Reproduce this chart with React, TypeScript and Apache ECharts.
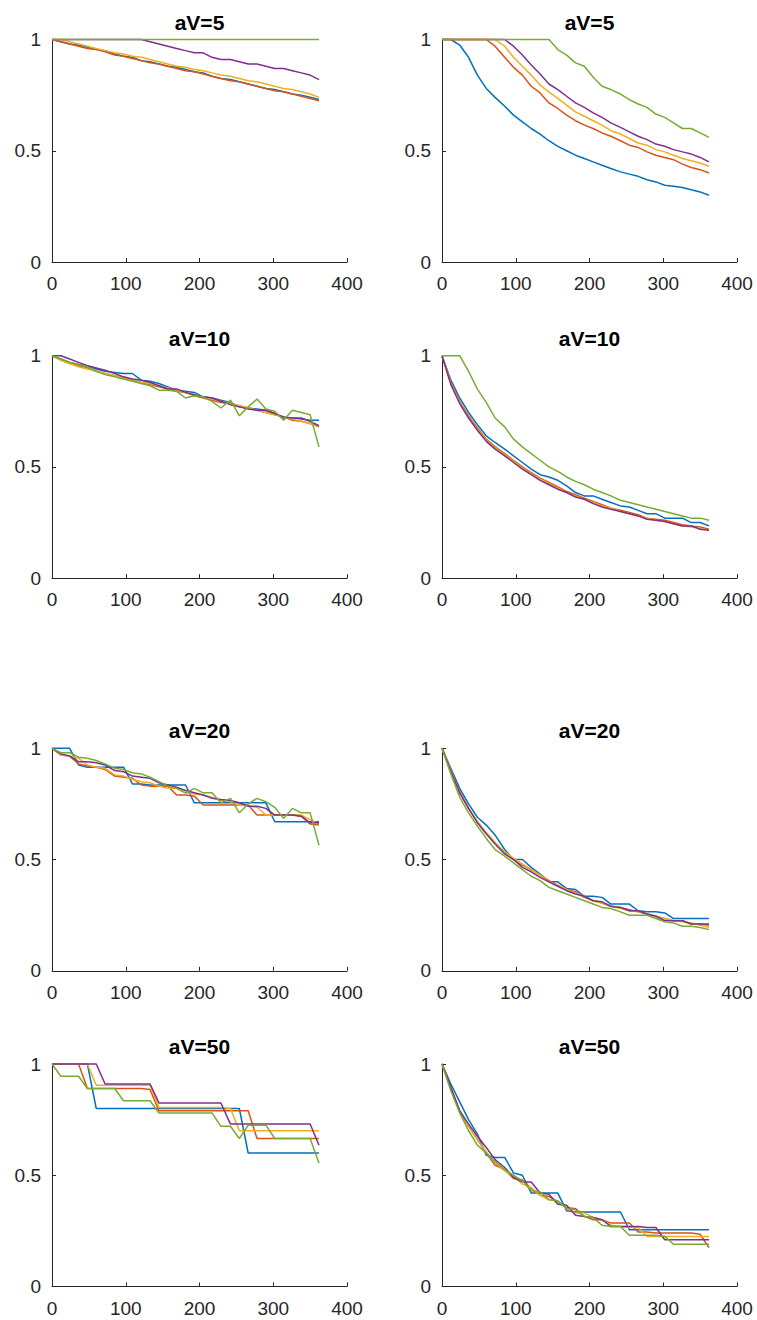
import React, { useEffect, useRef } from "react";
import * as echarts from "echarts";

// x values (days)
const days = [0, 12, 24, 36, 48, 60, 72, 85, 97, 109, 121, 133, 145, 157, 169, 181, 193, 205, 217, 229, 242, 254, 266, 278, 290, 302, 314, 326, 338, 350, 362];

const titles = ["aV=5", "aV=5", "aV=10", "aV=10", "aV=20", "aV=20", "aV=50", "aV=50"];
const xTicks = [0, 100, 200, 300, 400];
const yTicks = [0, 0.5, 1];

// Panel 1: left, aV=5
const p1Blue = [1, 0.99, 0.98, 0.975, 0.965, 0.955, 0.95, 0.935, 0.925, 0.92, 0.905, 0.9, 0.89, 0.88, 0.875, 0.865, 0.855, 0.85, 0.835, 0.825, 0.82, 0.81, 0.8, 0.79, 0.78, 0.775, 0.765, 0.755, 0.75, 0.74, 0.73];
const p1Red = [1, 0.99, 0.98, 0.97, 0.96, 0.955, 0.945, 0.93, 0.925, 0.915, 0.905, 0.895, 0.89, 0.88, 0.87, 0.86, 0.855, 0.845, 0.835, 0.825, 0.815, 0.81, 0.8, 0.79, 0.78, 0.77, 0.765, 0.755, 0.745, 0.735, 0.725];
const p1Yellow = [1, 1, 0.99, 0.98, 0.97, 0.96, 0.95, 0.94, 0.935, 0.925, 0.92, 0.91, 0.9, 0.89, 0.88, 0.875, 0.865, 0.86, 0.85, 0.84, 0.835, 0.825, 0.815, 0.81, 0.8, 0.79, 0.78, 0.775, 0.765, 0.755, 0.74];
const p1Purple = [1, 1, 1, 1, 1, 1, 1, 1, 1, 1, 1, 0.99, 0.98, 0.97, 0.96, 0.95, 0.94, 0.94, 0.92, 0.91, 0.91, 0.9, 0.89, 0.89, 0.88, 0.87, 0.87, 0.86, 0.85, 0.84, 0.82];
const p1Green = [1, 1, 1, 1, 1, 1, 1, 1, 1, 1, 1, 1, 1, 1, 1, 1, 1, 1, 1, 1, 1, 1, 1, 1, 1, 1, 1, 1, 1, 1, 1];

// Panel 2: right, aV=5
const p2Blue = [1, 1, 0.975, 0.92, 0.84, 0.78, 0.74, 0.7, 0.66, 0.63, 0.6, 0.575, 0.545, 0.52, 0.5, 0.48, 0.465, 0.45, 0.435, 0.42, 0.405, 0.395, 0.385, 0.37, 0.36, 0.345, 0.34, 0.335, 0.325, 0.315, 0.3];
const p2Red = [1, 1, 1, 1, 1, 1, 0.97, 0.92, 0.875, 0.84, 0.79, 0.76, 0.715, 0.69, 0.66, 0.635, 0.615, 0.6, 0.58, 0.565, 0.545, 0.525, 0.515, 0.495, 0.48, 0.47, 0.46, 0.44, 0.425, 0.415, 0.4];
const p2Yellow = [1, 1, 1, 1, 1, 1, 1, 0.97, 0.92, 0.88, 0.84, 0.795, 0.765, 0.735, 0.705, 0.675, 0.655, 0.635, 0.615, 0.59, 0.575, 0.555, 0.535, 0.525, 0.505, 0.495, 0.48, 0.465, 0.455, 0.445, 0.43];
const p2Purple = [1, 1, 1, 1, 1, 1, 1, 1, 0.97, 0.93, 0.885, 0.845, 0.8, 0.775, 0.745, 0.715, 0.695, 0.67, 0.65, 0.625, 0.605, 0.585, 0.565, 0.55, 0.53, 0.52, 0.505, 0.495, 0.485, 0.47, 0.45];
const p2Green = [1, 1, 1, 1, 1, 1, 1, 1, 1, 1, 1, 1, 1, 0.955, 0.93, 0.895, 0.88, 0.83, 0.79, 0.775, 0.755, 0.73, 0.71, 0.695, 0.665, 0.65, 0.625, 0.6, 0.6, 0.58, 0.56];

// Panel 3: left, aV=10
const p3Blue = [1, 0.985, 0.97, 0.96, 0.955, 0.94, 0.93, 0.925, 0.92, 0.92, 0.89, 0.885, 0.875, 0.86, 0.845, 0.84, 0.835, 0.815, 0.81, 0.8, 0.79, 0.77, 0.765, 0.76, 0.755, 0.74, 0.72, 0.72, 0.715, 0.71, 0.71];
const p3Red = [1, 0.98, 0.965, 0.955, 0.945, 0.93, 0.92, 0.91, 0.9, 0.89, 0.88, 0.87, 0.86, 0.85, 0.84, 0.835, 0.82, 0.81, 0.8, 0.79, 0.785, 0.775, 0.765, 0.755, 0.745, 0.735, 0.725, 0.71, 0.705, 0.695, 0.68];
const p3Yellow = [1, 0.98, 0.965, 0.95, 0.94, 0.93, 0.92, 0.91, 0.9, 0.89, 0.88, 0.875, 0.865, 0.855, 0.845, 0.835, 0.825, 0.815, 0.805, 0.795, 0.785, 0.775, 0.765, 0.755, 0.745, 0.735, 0.725, 0.715, 0.705, 0.695, 0.68];
const p3Purple = [1, 1, 0.985, 0.97, 0.955, 0.945, 0.935, 0.92, 0.905, 0.895, 0.89, 0.88, 0.865, 0.85, 0.85, 0.835, 0.825, 0.815, 0.81, 0.795, 0.78, 0.77, 0.76, 0.755, 0.755, 0.74, 0.725, 0.72, 0.72, 0.705, 0.685];
const p3Green = [1, 0.985, 0.97, 0.96, 0.95, 0.93, 0.915, 0.905, 0.895, 0.885, 0.875, 0.865, 0.845, 0.845, 0.84, 0.81, 0.82, 0.815, 0.795, 0.765, 0.8, 0.73, 0.77, 0.805, 0.76, 0.75, 0.71, 0.755, 0.745, 0.735, 0.59];

// Panel 4: right, aV=10
const p4Blue = [1, 0.89, 0.81, 0.745, 0.69, 0.64, 0.61, 0.58, 0.55, 0.52, 0.49, 0.465, 0.455, 0.44, 0.415, 0.385, 0.37, 0.37, 0.355, 0.34, 0.325, 0.32, 0.305, 0.29, 0.29, 0.27, 0.27, 0.27, 0.25, 0.25, 0.235];
const p4Red = [1, 0.88, 0.795, 0.73, 0.675, 0.625, 0.59, 0.56, 0.53, 0.5, 0.475, 0.45, 0.43, 0.41, 0.39, 0.375, 0.36, 0.345, 0.33, 0.315, 0.305, 0.295, 0.285, 0.27, 0.265, 0.26, 0.25, 0.24, 0.235, 0.23, 0.22];
const p4Yellow = [1, 0.875, 0.79, 0.725, 0.67, 0.62, 0.585, 0.555, 0.525, 0.495, 0.47, 0.445, 0.425, 0.405, 0.385, 0.37, 0.355, 0.34, 0.325, 0.315, 0.3, 0.29, 0.28, 0.27, 0.26, 0.255, 0.245, 0.235, 0.23, 0.225, 0.215];
const p4Purple = [1, 0.87, 0.785, 0.72, 0.665, 0.615, 0.58, 0.55, 0.52, 0.49, 0.465, 0.44, 0.42, 0.4, 0.385, 0.365, 0.355, 0.335, 0.32, 0.31, 0.3, 0.29, 0.28, 0.265, 0.26, 0.255, 0.245, 0.235, 0.235, 0.22, 0.215];
const p4Green = [1, 1, 1, 0.93, 0.85, 0.79, 0.72, 0.68, 0.625, 0.59, 0.56, 0.53, 0.5, 0.48, 0.455, 0.435, 0.42, 0.4, 0.385, 0.37, 0.35, 0.34, 0.33, 0.32, 0.31, 0.3, 0.29, 0.28, 0.27, 0.27, 0.26];

// Panel 5: left, aV=20
const p5Blue = [1, 1, 1, 0.925, 0.915, 0.915, 0.915, 0.915, 0.915, 0.84, 0.84, 0.835, 0.835, 0.835, 0.835, 0.835, 0.755, 0.755, 0.755, 0.755, 0.755, 0.755, 0.755, 0.755, 0.755, 0.67, 0.67, 0.67, 0.67, 0.67, 0.67];
const p5Red = [1, 0.97, 0.965, 0.93, 0.92, 0.915, 0.905, 0.875, 0.87, 0.865, 0.835, 0.83, 0.83, 0.83, 0.79, 0.79, 0.785, 0.745, 0.745, 0.745, 0.745, 0.745, 0.745, 0.7, 0.7, 0.7, 0.7, 0.7, 0.695, 0.66, 0.655];
const p5Yellow = [1, 0.97, 0.965, 0.955, 0.925, 0.915, 0.91, 0.88, 0.875, 0.86, 0.85, 0.845, 0.83, 0.82, 0.82, 0.8, 0.795, 0.79, 0.78, 0.765, 0.76, 0.745, 0.74, 0.735, 0.7, 0.7, 0.7, 0.7, 0.7, 0.68, 0.66];
const p5Purple = [1, 0.975, 0.965, 0.94, 0.94, 0.935, 0.925, 0.9, 0.895, 0.875, 0.87, 0.865, 0.845, 0.835, 0.825, 0.81, 0.8, 0.79, 0.775, 0.77, 0.765, 0.755, 0.74, 0.74, 0.73, 0.7, 0.7, 0.7, 0.695, 0.665, 0.665];
const p5Green = [1, 0.98, 0.98, 0.96, 0.955, 0.945, 0.93, 0.91, 0.905, 0.89, 0.885, 0.87, 0.85, 0.83, 0.82, 0.8, 0.82, 0.8, 0.8, 0.755, 0.775, 0.71, 0.75, 0.775, 0.76, 0.735, 0.685, 0.73, 0.71, 0.71, 0.565];

// Panel 6: right, aV=20
const p6Blue = [1, 0.91, 0.82, 0.75, 0.69, 0.655, 0.61, 0.545, 0.5, 0.5, 0.465, 0.435, 0.4, 0.4, 0.37, 0.365, 0.335, 0.335, 0.33, 0.3, 0.3, 0.3, 0.27, 0.265, 0.265, 0.26, 0.235, 0.235, 0.235, 0.235, 0.235];
const p6Red = [1, 0.9, 0.805, 0.73, 0.67, 0.62, 0.575, 0.53, 0.5, 0.475, 0.455, 0.43, 0.405, 0.385, 0.365, 0.355, 0.33, 0.315, 0.305, 0.29, 0.285, 0.275, 0.265, 0.255, 0.245, 0.235, 0.225, 0.225, 0.21, 0.21, 0.205];
const p6Yellow = [1, 0.9, 0.8, 0.73, 0.67, 0.62, 0.575, 0.535, 0.505, 0.48, 0.455, 0.43, 0.4, 0.385, 0.365, 0.35, 0.335, 0.315, 0.305, 0.29, 0.28, 0.27, 0.265, 0.255, 0.245, 0.235, 0.225, 0.22, 0.215, 0.205, 0.195];
const p6Purple = [1, 0.895, 0.8, 0.73, 0.665, 0.615, 0.57, 0.525, 0.5, 0.465, 0.445, 0.42, 0.4, 0.38, 0.36, 0.345, 0.335, 0.315, 0.31, 0.29, 0.285, 0.27, 0.27, 0.255, 0.245, 0.225, 0.225, 0.225, 0.21, 0.21, 0.21];
const p6Green = [1, 0.885, 0.78, 0.71, 0.65, 0.595, 0.545, 0.515, 0.485, 0.455, 0.425, 0.405, 0.375, 0.36, 0.345, 0.33, 0.315, 0.3, 0.285, 0.28, 0.265, 0.25, 0.25, 0.25, 0.235, 0.22, 0.215, 0.2, 0.2, 0.195, 0.185];

// Panel 7: left, aV=50
const p7Blue = [1, 1, 1, 1, 1, 0.8, 0.8, 0.8, 0.8, 0.8, 0.8, 0.8, 0.8, 0.8, 0.8, 0.8, 0.8, 0.8, 0.8, 0.8, 0.8, 0.8, 0.6, 0.6, 0.6, 0.6, 0.6, 0.6, 0.6, 0.6, 0.6];
const p7Red = [1, 1, 1, 1, 0.89, 0.89, 0.89, 0.89, 0.89, 0.89, 0.89, 0.885, 0.79, 0.79, 0.79, 0.79, 0.79, 0.79, 0.79, 0.79, 0.79, 0.79, 0.79, 0.665, 0.665, 0.665, 0.665, 0.665, 0.665, 0.665, 0.665];
const p7Yellow = [1, 1, 1, 1, 1, 0.905, 0.905, 0.905, 0.905, 0.905, 0.905, 0.905, 0.805, 0.805, 0.805, 0.805, 0.805, 0.805, 0.805, 0.805, 0.8, 0.7, 0.7, 0.7, 0.7, 0.7, 0.7, 0.7, 0.7, 0.7, 0.7];
const p7Purple = [1, 1, 1, 1, 1, 1, 0.91, 0.91, 0.91, 0.91, 0.91, 0.91, 0.825, 0.825, 0.825, 0.825, 0.825, 0.825, 0.825, 0.825, 0.73, 0.73, 0.73, 0.73, 0.73, 0.73, 0.73, 0.73, 0.73, 0.73, 0.635];
const p7Green = [1, 0.945, 0.945, 0.945, 0.89, 0.89, 0.89, 0.89, 0.835, 0.835, 0.835, 0.835, 0.78, 0.78, 0.78, 0.78, 0.78, 0.78, 0.78, 0.72, 0.72, 0.665, 0.725, 0.725, 0.725, 0.665, 0.665, 0.665, 0.665, 0.665, 0.555];

// Panel 8: right, aV=50
const p8Blue = [1, 0.91, 0.83, 0.75, 0.685, 0.59, 0.58, 0.58, 0.51, 0.5, 0.42, 0.42, 0.42, 0.42, 0.34, 0.335, 0.335, 0.335, 0.335, 0.335, 0.335, 0.255, 0.255, 0.255, 0.255, 0.255, 0.255, 0.255, 0.255, 0.255, 0.255];
const p8Red = [1, 0.89, 0.785, 0.72, 0.66, 0.6, 0.545, 0.525, 0.485, 0.48, 0.44, 0.41, 0.405, 0.38, 0.355, 0.35, 0.315, 0.3, 0.3, 0.285, 0.285, 0.285, 0.245, 0.245, 0.24, 0.24, 0.24, 0.24, 0.24, 0.235, 0.175];
const p8Yellow = [1, 0.89, 0.79, 0.72, 0.66, 0.605, 0.555, 0.52, 0.495, 0.46, 0.445, 0.41, 0.39, 0.385, 0.35, 0.33, 0.33, 0.31, 0.3, 0.275, 0.27, 0.265, 0.265, 0.225, 0.225, 0.225, 0.225, 0.225, 0.225, 0.225, 0.225];
const p8Purple = [1, 0.895, 0.79, 0.73, 0.675, 0.625, 0.57, 0.535, 0.49, 0.47, 0.47, 0.42, 0.415, 0.37, 0.365, 0.32, 0.315, 0.31, 0.3, 0.27, 0.27, 0.27, 0.27, 0.265, 0.265, 0.21, 0.21, 0.21, 0.21, 0.21, 0.21];
const p8Green = [1, 0.88, 0.78, 0.7, 0.635, 0.6, 0.56, 0.525, 0.5, 0.475, 0.43, 0.425, 0.39, 0.385, 0.35, 0.345, 0.315, 0.31, 0.275, 0.27, 0.27, 0.23, 0.23, 0.23, 0.23, 0.225, 0.19, 0.19, 0.19, 0.19, 0.19];

const panels = [
  [p1Blue, p1Red, p1Yellow, p1Purple, p1Green],
  [p2Blue, p2Red, p2Yellow, p2Purple, p2Green],
  [p3Blue, p3Red, p3Yellow, p3Purple, p3Green],
  [p4Blue, p4Red, p4Yellow, p4Purple, p4Green],
  [p5Blue, p5Red, p5Yellow, p5Purple, p5Green],
  [p6Blue, p6Red, p6Yellow, p6Purple, p6Green],
  [p7Blue, p7Red, p7Yellow, p7Purple, p7Green],
  [p8Blue, p8Red, p8Yellow, p8Purple, p8Green],
];

const colors = ["#0072BD", "#D95319", "#EDB120", "#7E2F8E", "#77AC30"];

const FONT = "'Liberation Sans', Arial, Helvetica, sans-serif";
const AXIS_COLOR = "#262626";

const colLeft = [52, 442];
const rowTop = [39.5, 355.7, 748.3, 1064];
const plotW = 295;
const plotH = 222.5;

export default function App() {
  const ref = useRef<HTMLDivElement>(null);

  useEffect(() => {
    if (!ref.current) return;
    const chart = echarts.init(ref.current, undefined, { renderer: "svg" });

    const grids: any[] = [];
    const xAxes: any[] = [];
    const yAxes: any[] = [];
    const series: any[] = [];
    const graphics: any[] = [];

    panels.forEach((lines, k) => {
      const col = k % 2;
      const row = Math.floor(k / 2);
      const left = colLeft[col];
      const top = rowTop[row];
      grids.push({ left, top, width: plotW, height: plotH, containLabel: false });
      xAxes.push({
        gridIndex: k,
        type: "value",
        min: xTicks[0],
        max: xTicks[xTicks.length - 1],
        interval: 100,
        axisLine: { show: true, onZero: false, lineStyle: { color: AXIS_COLOR, width: 1 } },
        axisTick: { show: true, inside: true, length: 4, lineStyle: { color: AXIS_COLOR, width: 1 } },
        axisLabel: { color: AXIS_COLOR, fontSize: 19, fontFamily: FONT, margin: 12 },
        splitLine: { show: false },
      });
      yAxes.push({
        gridIndex: k,
        type: "value",
        min: yTicks[0],
        max: yTicks[yTicks.length - 1],
        interval: 0.5,
        axisLine: { show: true, onZero: false, lineStyle: { color: AXIS_COLOR, width: 1 } },
        axisTick: { show: true, inside: true, length: 4, lineStyle: { color: AXIS_COLOR, width: 1 } },
        axisLabel: { color: AXIS_COLOR, fontSize: 19, fontFamily: FONT, margin: 11 },
        splitLine: { show: false },
      });
      lines.forEach((vals, s) => {
        series.push({
          type: "line",
          xAxisIndex: k,
          yAxisIndex: k,
          data: days.map((d, i) => [d, vals[i]]),
          symbol: "none",
          showSymbol: false,
          clip: false,
          silent: true,
          lineStyle: { color: colors[s], width: 1.5 },
          itemStyle: { color: colors[s] },
        });
      });
      graphics.push({
        type: "text",
        x: left + plotW / 2,
        y: top - 17.5,
        style: {
          text: titles[k],
          fill: "#000",
          fontSize: 21,
          fontWeight: "bold",
          fontFamily: FONT,
          align: "center",
          textAlign: "center",
          verticalAlign: "middle",
          textVerticalAlign: "middle",
        },
      });
    });

    chart.setOption({
      animation: false,
      backgroundColor: "#ffffff",
      grid: grids,
      xAxis: xAxes,
      yAxis: yAxes,
      series,
      graphic: graphics,
    });

    return () => chart.dispose();
  }, []);

  return (
    <div
      ref={ref}
      style={{ position: "absolute", left: 0, top: 0, width: 757, height: 1320, background: "#fff" }}
    />
  );
}
